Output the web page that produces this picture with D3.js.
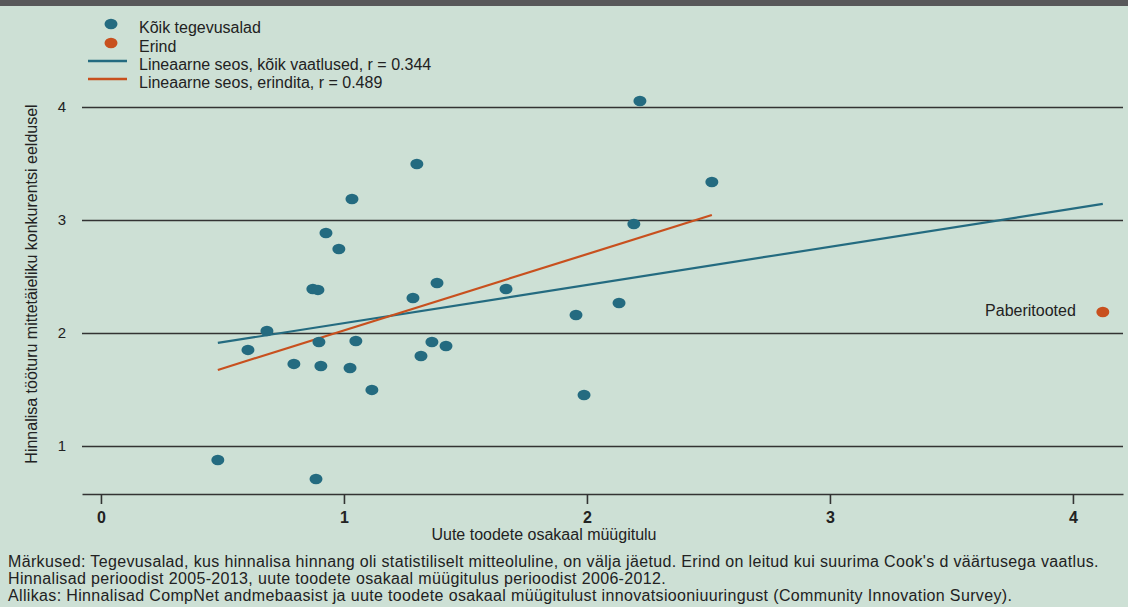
<!DOCTYPE html>
<html>
<head>
<meta charset="utf-8">
<script src="https://cdn.jsdelivr.net/npm/d3@7"></script>
<style>
  body { margin: 0; background: #cde0d5; }
  svg text { font-family: "Liberation Sans", Arial, Helvetica, sans-serif; fill: #222; }
  .grid line { stroke: #333; stroke-width: 1.6; }
  .grid path { display: none; }
  .xaxis path, .xaxis line { stroke: #333; stroke-width: 1.6; }
</style>
</head>
<body>
<div id="chart"></div>
<script>
// data
const sharesAll = [0.481, 0.885, 0.605, 0.683, 0.794, 0.897, 0.905, 1.025, 1.049, 1.115,
  0.872, 0.893, 0.979, 0.926, 1.033, 1.300, 1.284, 1.383, 1.362, 1.420,
  1.317, 1.667, 1.955, 1.988, 2.132, 2.193, 2.218, 2.514];
const pricesAll = [0.876, 0.708, 1.850, 2.018, 1.726, 1.920, 1.708, 1.690, 1.929, 1.496,
  2.389, 2.381, 2.743, 2.885, 3.186, 3.496, 2.310, 2.442, 1.920, 1.885,
  1.796, 2.389, 2.159, 1.451, 2.265, 2.965, 4.053, 3.336];
const outlierName = "Paberitooted";
const outlierShare = 4.123;
const outlierPrice = 2.186;
// fitted lines (end points)
const fitAllX = [0.481, 4.123];
const fitAllY = [1.912, 3.142];
const fitNoOutX = [0.481, 2.514];
const fitNoOutY = [1.673, 3.044];

const xTicks = [0, 1, 2, 3, 4];
const yTicks = [1, 2, 3, 4];
const legendLabels = ["Kõik tegevusalad", "Erind",
  "Lineaarne seos, kõik vaatlused, r = 0.344", "Lineaarne seos, erindita, r = 0.489"];
const xTitle = "Uute toodete osakaal müügitulu";
const yTitle = "Hinnalisa tööturu mittetäieliku konkurentsi eeldusel";
const notes = [
  "Märkused: Tegevusalad, kus hinnalisa hinnang oli statistiliselt mitteoluline, on välja jäetud. Erind on leitud kui suurima Cook's d väärtusega vaatlus.",
  "Hinnalisad perioodist 2005-2013, uute toodete osakaal müügitulus perioodist 2006-2012.",
  "Allikas: Hinnalisad CompNet andmebaasist ja uute toodete osakaal müügitulust innovatsiooniuuringust (Community Innovation Survey)."
];

const blue = "#246b80";
const orange = "#c8501e";

const W = 1128, H = 607;
const left = 82, right = 1123, axisY = 494;

const svg = d3.select("#chart").append("svg")
  .attr("width", W).attr("height", H);

svg.append("rect").attr("width", W).attr("height", H).attr("fill", "#cde0d5");
svg.append("rect").attr("width", W).attr("height", 6).attr("fill", "#58585a");

const x = d3.scaleLinear().domain([-0.078, 4.206]).range([left, right]);
const y = d3.scaleLinear().domain([0.575, 4.947]).range([axisY, 0]);

// gridlines + y labels
const gy = svg.append("g")
  .attr("class", "grid")
  .attr("transform", `translate(${left},0)`)
  .call(d3.axisLeft(y).tickValues(yTicks).tickSize(-(right - left)).tickPadding(16).tickFormat(d3.format("d")));
gy.selectAll("text").style("font-size", "15px").attr("fill", "#222");

// x axis
const gx = svg.append("g")
  .attr("class", "xaxis")
  .attr("transform", `translate(0,${axisY})`)
  .call(d3.axisBottom(x).tickValues(xTicks).tickSize(10).tickSizeOuter(0).tickPadding(8).tickFormat(d3.format("d")));
gx.selectAll("text").style("font-size", "16px").style("font-weight", "bold").attr("fill", "#222");

// axis titles
svg.append("text")
  .attr("x", 544).attr("y", 540)
  .attr("text-anchor", "middle")
  .style("font-size", "16px")
  .text(xTitle);

svg.append("text")
  .attr("transform", `translate(37,${284}) rotate(-90)`)
  .attr("text-anchor", "middle")
  .style("font-size", "16px")
  .text(yTitle);

// fit lines
const line = d3.line().x(d => x(d[0])).y(d => y(d[1]));
svg.append("path")
  .attr("d", line(d3.zip(fitAllX, fitAllY)))
  .attr("fill", "none").attr("stroke", blue).attr("stroke-width", 2.2);
svg.append("path")
  .attr("d", line(d3.zip(fitNoOutX, fitNoOutY)))
  .attr("fill", "none").attr("stroke", orange).attr("stroke-width", 2.2);

// points
svg.append("g").selectAll("ellipse")
  .data(d3.zip(sharesAll, pricesAll))
  .enter().append("ellipse")
  .attr("cx", d => x(d[0])).attr("cy", d => y(d[1]))
  .attr("rx", 6.5).attr("ry", 5.2)
  .attr("fill", blue);

svg.append("ellipse")
  .attr("cx", x(outlierShare)).attr("cy", y(outlierPrice))
  .attr("rx", 6.5).attr("ry", 5.2)
  .attr("fill", orange);

svg.append("text")
  .attr("x", x(outlierShare) - 27).attr("y", y(outlierPrice) + 4)
  .attr("text-anchor", "end")
  .style("font-size", "16px")
  .text(outlierName);

// legend
const lg = svg.append("g");
const rowY = [24, 43, 61, 79];
lg.append("ellipse").attr("cx", 111).attr("cy", rowY[0]).attr("rx", 6.5).attr("ry", 5.2).attr("fill", blue);
lg.append("ellipse").attr("cx", 111).attr("cy", rowY[1]).attr("rx", 6.5).attr("ry", 5.2).attr("fill", orange);
lg.append("line").attr("x1", 88).attr("x2", 127).attr("y1", rowY[2]).attr("y2", rowY[2])
  .attr("stroke", blue).attr("stroke-width", 2.4);
lg.append("line").attr("x1", 88).attr("x2", 127).attr("y1", rowY[3]).attr("y2", rowY[3])
  .attr("stroke", orange).attr("stroke-width", 2.4);
lg.selectAll("text.leg")
  .data(legendLabels)
  .enter().append("text")
  .attr("class", "leg")
  .attr("x", 139)
  .attr("y", (d, i) => rowY[i] + 9)
  .style("font-size", "16px")
  .text(d => d);

// notes
svg.selectAll("text.note")
  .data(notes)
  .enter().append("text")
  .attr("class", "note")
  .attr("x", 8)
  .attr("y", (d, i) => 567 + i * 17)
  .style("font-size", "16px")
  .style("letter-spacing", "0.35px")
  .text(d => d);
</script>
</body>
</html>
